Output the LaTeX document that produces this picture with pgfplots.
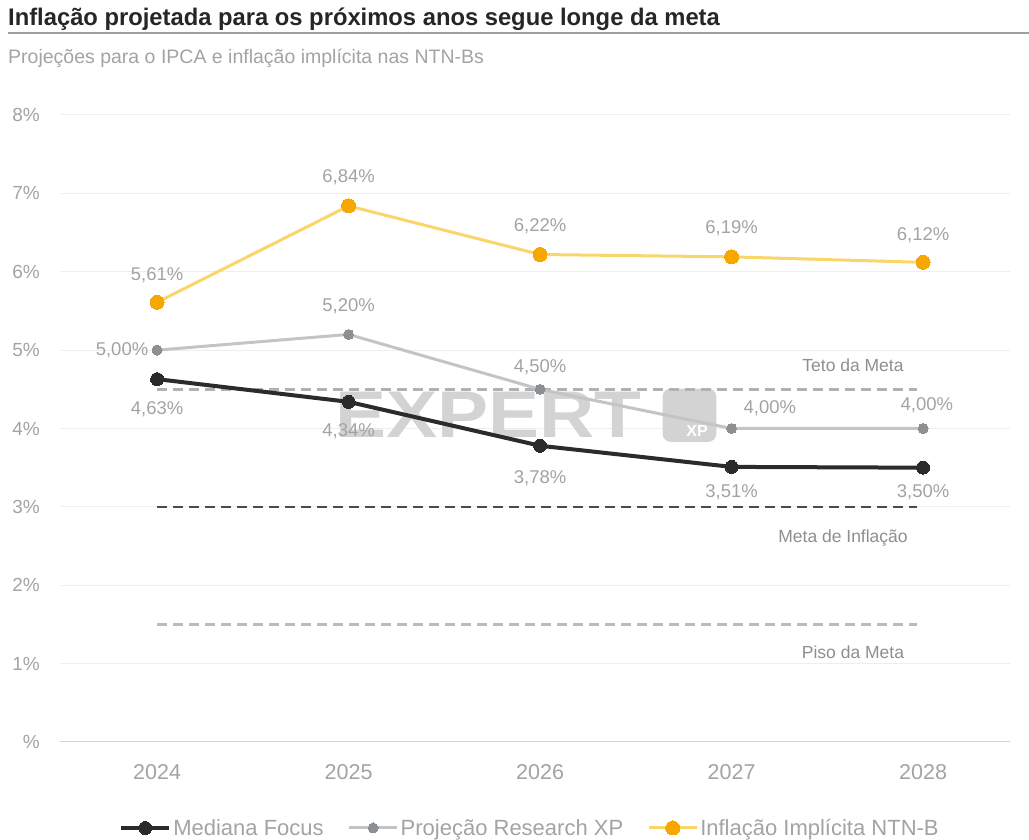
\documentclass[border=0pt]{standalone}
\usepackage{pgfplots}
\pgfplotsset{compat=1.18}
\usepackage{fontspec}
\setmainfont{Liberation Sans}
\newfontfamily\condfont[FakeStretch=0.99]{Liberation Sans}
\definecolor{focus}{HTML}{2B2B2B}
\definecolor{xpline}{HTML}{C2C5C7}
\definecolor{xpmark}{HTML}{8C9093}
\definecolor{ntnline}{HTML}{F9D56A}
\definecolor{ntnmark}{HTML}{F7A800}
\definecolor{lbl}{HTML}{A3A3A3}
\definecolor{reflbl}{HTML}{8E8E8E}
\definecolor{gridc}{HTML}{EEEEEE}
\definecolor{wm}{HTML}{D3D3D3}
\begin{document}
\begin{tikzpicture}[x=1pt,y=1pt]
\path[use as bounding box] (0,0) rectangle (1029,840);
\node[anchor=west, inner sep=0pt, font=\condfont\bfseries\fontsize{24}{26}\selectfont, text=black!85] at (8,821) {Inflação projetada para os próximos anos segue longe da meta};
\draw[gray!75, line width=1.5pt] (8,807) -- (1029,807);
\node[anchor=west, inner sep=0pt, font=\fontsize{19.5}{21}\selectfont, text=lbl] at (8,782) {Projeções para o IPCA e inflação implícita nas NTN-Bs};
\begin{axis}[
  at={(60pt,98pt)}, anchor=south west, scale only axis,
  width=950pt, height=627pt,
  xmin=2023.493, xmax=2028.454, ymin=0, ymax=8,
  axis line style={draw=none},
  tick style={draw=none},
  ymajorgrids, grid style={gridc, line width=1pt},
  xtick={2024,2025,2026,2027,2028},
  xticklabels={2024,2025,2026,2027,2028},
  ytick={0,1,2,3,4,5,6,7,8},
  yticklabels={\%,1\%,2\%,3\%,4\%,5\%,6\%,7\%,8\%},
  yticklabel style={inner sep=0pt, anchor=east, xshift=-20pt, font=\fontsize{19}{21}\selectfont, text=lbl},
  xticklabel style={inner sep=0pt, anchor=north, yshift=-22pt, font=\fontsize{21.5}{23}\selectfont, text=lbl},
  clip=false,
  legend columns=3,
  legend cell align=left,
  legend style={draw=none, fill=none, at={(0.5,0)}, anchor=center, yshift=-86pt, xshift=-5pt,
    font=\fontsize{22}{24}\selectfont, text=lbl,
    /tikz/every even column/.append style={column sep=22pt}},
  legend image code/.code={\draw[mark repeat=2,mark phase=2,#1] plot coordinates {(0pt,0pt)(24pt,0pt)(48pt,0pt)};},
]
% baseline at 0
\addplot[forget plot, draw=gray!35, line width=1pt] coordinates {(2023.493,0)(2028.454,0)};
% watermark
\node[font=\bfseries\fontsize{66}{70}\selectfont, text=wm, inner sep=0pt, xscale=1.16] at (axis cs:2025.73,4.17) {EXPERT};
\fill[wm, rounded corners=8pt] (axis cs:2026.64,3.83) rectangle (axis cs:2026.92,4.51);
\node[font=\bfseries\fontsize{16}{16}\selectfont, text=white, inner sep=0pt] at (axis cs:2026.82,3.97) {XP};
% reference lines
\addplot[forget plot, draw=lbl!85, line width=2.5pt, dash pattern=on 10pt off 6pt] coordinates {(2024,4.5)(2027.97,4.5)};
\addplot[forget plot, draw=focus!85, line width=2.5pt, dash pattern=on 10pt off 6pt] coordinates {(2024,3.0)(2027.97,3.0)};
\addplot[forget plot, draw=lbl!75, line width=2.5pt, dash pattern=on 10pt off 6pt] coordinates {(2024,1.5)(2027.97,1.5)};
\node[font=\fontsize{17.5}{19}\selectfont, text=reflbl] at (axis cs:2027.634,4.81) {Teto da Meta};
\node[font=\fontsize{17.5}{19}\selectfont, text=reflbl] at (axis cs:2027.582,2.60) {Meta de Inflação};
\node[font=\fontsize{17.5}{19}\selectfont, text=reflbl] at (axis cs:2027.634,1.15) {Piso da Meta};
% series
\addplot[focus, line width=4pt, mark=*, mark size=6.5pt, mark options={fill=focus, draw=focus, line width=0pt}]
  coordinates {(2024,4.63)(2025,4.34)(2026,3.78)(2027,3.51)(2028,3.50)};
\addlegendentry{Mediana Focus}
\addplot[xpline, line width=3pt, mark=*, mark size=5pt, mark options={fill=xpmark, draw=xpmark, line width=0pt}]
  coordinates {(2024,5.00)(2025,5.20)(2026,4.50)(2027,4.00)(2028,4.00)};
\addlegendentry{Projeção Research XP}
\addplot[ntnline, line width=3pt, mark=*, mark size=7pt, mark options={fill=ntnmark, draw=ntnmark, line width=0pt}]
  coordinates {(2024,5.61)(2025,6.84)(2026,6.22)(2027,6.19)(2028,6.12)};
\addlegendentry{Inflação Implícita NTN-B}
% data labels
\begin{scope}[every node/.style={font=\fontsize{18.5}{20}\selectfont, text=lbl}]
\node at (axis cs:2024,5.96) {5,61\%};
\node at (axis cs:2025,7.20) {6,84\%};
\node at (axis cs:2026,6.58) {6,22\%};
\node at (axis cs:2027,6.55) {6,19\%};
\node at (axis cs:2028,6.46) {6,12\%};
\node[anchor=east, inner sep=0pt] at (axis cs:2023.955,5.0) {5,00\%};
\node at (axis cs:2025,5.56) {5,20\%};
\node at (axis cs:2026,4.78) {4,50\%};
\node at (axis cs:2027.2,4.26) {4,00\%};
\node at (axis cs:2028.02,4.30) {4,00\%};
\node at (axis cs:2024,4.24) {4,63\%};
\node at (axis cs:2025,3.96) {4,34\%};
\node at (axis cs:2026,3.37) {3,78\%};
\node at (axis cs:2027,3.19) {3,51\%};
\node at (axis cs:2028,3.19) {3,50\%};
\end{scope}
\end{axis}
\end{tikzpicture}
\end{document}
